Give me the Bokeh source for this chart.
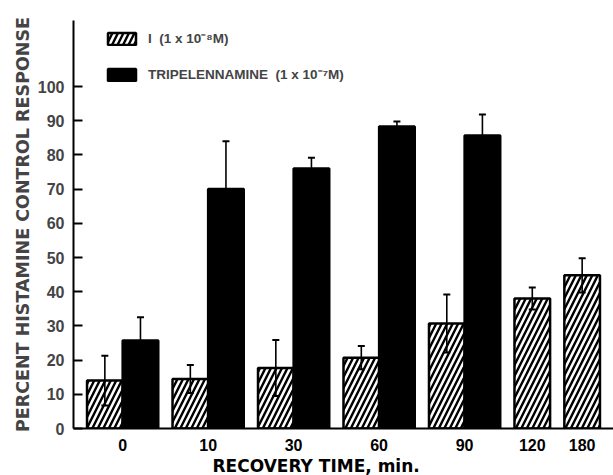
from bokeh.plotting import figure
from bokeh.models import (FactorRange, Range1d, FixedTicker, Legend, LegendItem,
                          ColumnDataSource, Title)
from bokeh.embed import file_html
from bokeh.resources import INLINE

# ---- data ----
times = ["0", "10", "30", "60", "90", "120", "180"]
drug_I_mean = [14.0, 14.5, 17.7, 20.7, 30.7, 38.0, 44.8]
drug_I_err = [7.3, 4.1, 8.2, 3.4, 8.5, 3.2, 5.0]
trip_times = ["0", "10", "30", "60", "90"]
trip_mean = [25.7, 70.0, 76.0, 88.3, 85.7]
trip_err = [6.8, 14.0, 3.2, 1.5, 6.1]
y_ticks = [0, 10, 20, 30, 40, 50, 60, 70, 80, 90, 100]
label_I = "I  (1 x 10\u207b\u2078M)"
label_T = "TRIPELENNAMINE  (1 x 10\u207b\u2077M)"
x_title = "RECOVERY TIME, min."
y_title = "PERCENT HISTAMINE CONTROL RESPONSE"

factors = []
for t in times:
    factors.append((t, "I"))
    if t in trip_times:
        factors.append((t, "T"))

src_I = ColumnDataSource(dict(
    x=[(t, "I") for t in times],
    top=drug_I_mean,
    upper=[m + e for m, e in zip(drug_I_mean, drug_I_err)],
    lower=[m - e for m, e in zip(drug_I_mean, drug_I_err)],
))
src_T = ColumnDataSource(dict(
    x=[(t, "T") for t in trip_times],
    top=trip_mean,
    upper=[m + e for m, e in zip(trip_mean, trip_err)],
    lower=[m - e for m, e in zip(trip_mean, trip_err)],
))

p = figure(width=613, height=475,
           x_range=FactorRange(*factors, group_padding=0.4, factor_padding=0.0,
                               range_padding=0.38, range_padding_units="absolute"),
           y_range=Range1d(0, 119.3),
           output_backend="svg", toolbar_location=None,
           min_border_left=73, min_border_right=0, min_border_top=20,
           min_border_bottom=47)
p.grid.visible = False
p.outline_line_color = None
p.background_fill_color = "white"
p.border_fill_color = "white"

r_I = p.vbar(x="x", top="top", width=1.0, source=src_I, fill_color="white",
             line_color="black", line_width=2.5, hatch_pattern="/",
             hatch_color="black", hatch_scale=11, hatch_weight=2.4)
r_T = p.vbar(x="x", top="top", width=1.0, source=src_T, fill_color="black",
             line_color="black", line_width=2.5)

# error bars
p.segment(x0="x", y0="lower", x1="x", y1="upper", source=src_I,
          line_color="black", line_width=1.6)
p.scatter(x="x", y="upper", source=src_I, marker="dash", size=7,
          line_color="black", line_width=2)
p.scatter(x="x", y="lower", source=src_I, marker="dash", size=7,
          line_color="black", line_width=2)
p.segment(x0="x", y0="lower", x1="x", y1="upper", source=src_T,
          line_color="black", line_width=1.6)
p.scatter(x="x", y="upper", source=src_T, marker="dash", size=7,
          line_color="black", line_width=2)

# y axis
ya = p.yaxis[0]
ya.ticker = FixedTicker(ticks=y_ticks)
ya.major_tick_in = 9
ya.major_tick_out = 0
ya.minor_tick_line_color = None
ya.major_tick_line_width = 2
ya.axis_line_width = 2
ya.major_label_text_font = "Liberation Sans"
ya.major_label_text_font_style = "bold"
ya.major_label_text_font_size = "16px"
ya.major_label_standoff = 9
ya.axis_label = y_title
ya.axis_label_text_font = "DejaVu Sans"
ya.axis_label_text_font_style = "bold"
ya.axis_label_text_font_size = "17.5px"
ya.axis_label_standoff = 2

# x axis: only the group (time) labels are shown
xa = p.xaxis[0]
xa.major_tick_line_color = None
xa.minor_tick_line_color = None
xa.major_label_text_font_size = "0px"
xa.major_label_text_color = None
xa.major_label_text_alpha = 0
xa.group_text_font = "Liberation Sans"
xa.group_text_font_style = "bold"
xa.group_text_font_size = "16px"
xa.group_text_color = "black"
xa.separator_line_color = None
xa.axis_line_width = 2
xa.major_label_standoff = 4

# x-axis title, set slightly left of centre as in the reference
xt = Title(text=x_title, align="left", offset=139, standoff=0,
           text_font="DejaVu Sans", text_font_style="bold",
           text_font_size="17px", text_color="black")
p.add_layout(xt, "below")

legend = Legend(items=[LegendItem(label=label_I, renderers=[r_I]),
                       LegendItem(label=label_T, renderers=[r_T])],
                location=(31, 345), glyph_width=35, glyph_height=15,
                label_height=15, spacing=18, label_standoff=9, padding=0,
                margin=0, border_line_color=None, background_fill_alpha=0,
                label_text_font="Liberation Sans", label_text_font_style="bold",
                label_text_font_size="13.5px")
p.add_layout(legend)

open("out.html", "w").write(file_html(p, INLINE))
